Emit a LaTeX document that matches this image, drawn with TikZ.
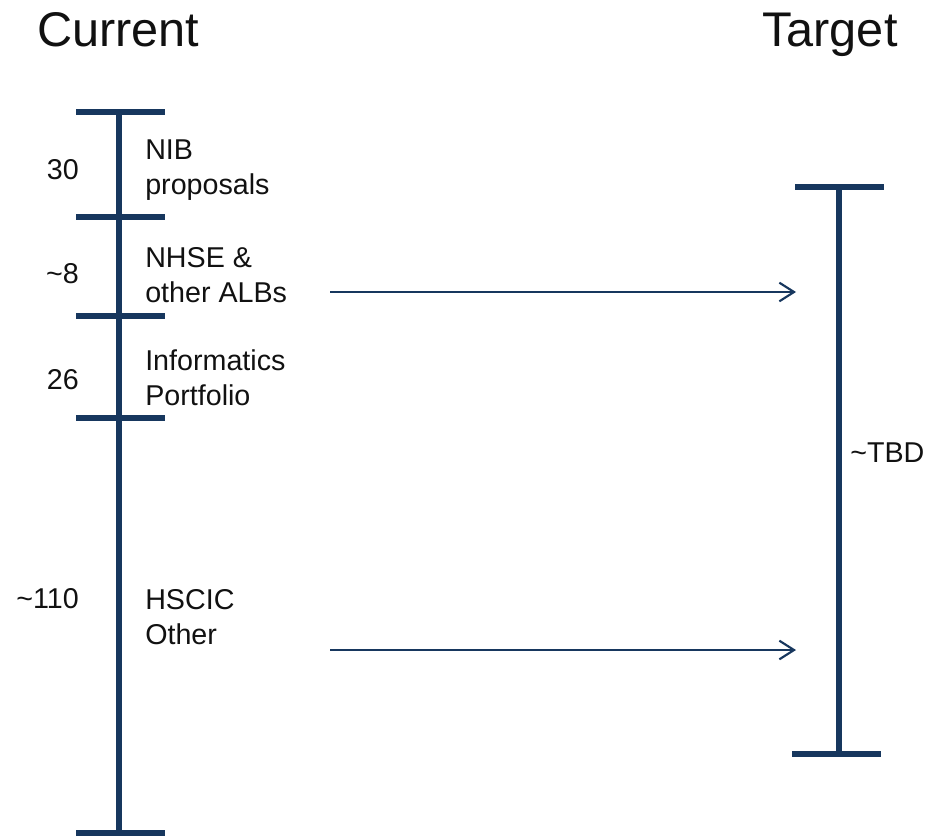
\documentclass[tikz,border=0pt]{standalone}
\usepackage{fontspec}
\setmainfont{Liberation Sans}
\usetikzlibrary{arrows.meta, positioning}
\definecolor{navy}{HTML}{17375E}
\definecolor{ink}{HTML}{111111}

\begin{document}
\begin{tikzpicture}[x=0.75pt, y=-0.75pt,
    bar/.style={navy, line width=4.2pt},
    flow/.style={navy, line width=1.4pt, -{Straight Barb[length=11pt, width=14pt, line width=1.6pt]}},
    amount/.style={ink, font=\fontsize{21.5}{26}\selectfont, anchor=east, inner sep=0pt},
    part/.style={ink, font=\fontsize{21.5}{26}\selectfont, align=left, anchor=west, inner sep=0pt},
    heading/.style={ink, font=\fontsize{36.5}{40}\selectfont, anchor=base west, inner sep=0pt}]
    \useasboundingbox (0,0) rectangle (930,836);
    \node[heading] (current) at (37,46) {Current};
    \node[heading] (target) at (762,46) {Target};
    % current scale
    \def\lx{119}
    \foreach \name/\yy in {a/112, b/217, c/316, d/418, e/833} {
      \coordinate (l\name) at (\lx,\yy);
      \draw[bar] (\lx-43,\yy) -- (\lx+46,\yy);
    }
    \draw[bar] (la) -- (le);
    % target scale
    \def\rx{839}
    \coordinate (rtop) at (\rx,187);
    \coordinate (rbot) at (\rx,754);
    \draw[bar] (\rx-44,187) -- (\rx+45,187);
    \draw[bar] (\rx-47,754) -- (\rx+42,754);
    \draw[bar] (rtop) -- (rbot);
    % amounts and parts
    \node[amount] (n30) at (79,170) {30};
    \node[amount] (n8) at (79,274) {\char`\~8};
    \node[amount] (n26) at (79,380) {26};
    \node[amount] (n110) at (79,599) {\char`\~110};
    \node[part] (nib) at (145,170) {NIB\\proposals};
    \node[part] (nhse) at (145,275) {NHSE \&\\other ALBs};
    \node[part] (info) at (145,378) {Informatics\\Portfolio};
    \node[part] (hscic) at (145,617) {HSCIC\\Other};
    \node[part] (tbd) at (850,453) {\char`\~TBD};
    % moves
    \coordinate (m1s) at (330,292);
    \coordinate (m1e) at (796,292);
    \coordinate (m2s) at (330,650);
    \coordinate (m2e) at (796,650);
    \draw[flow] (m1s) -- (m1e);
    \draw[flow] (m2s) -- (m2e);
\end{tikzpicture}
\end{document}
